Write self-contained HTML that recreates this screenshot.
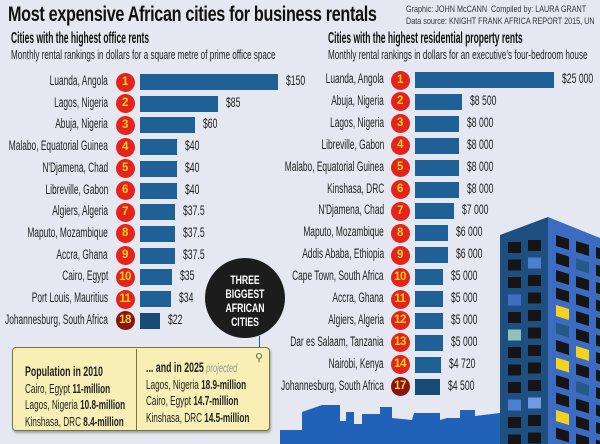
<!DOCTYPE html>
<html><head><meta charset="utf-8">
<style>
html,body{margin:0;overflow:hidden;width:600px;height:444px;}
#root{position:relative;width:600px;height:444px;background:#e5e8f1;overflow:hidden;font-family:"Liberation Sans",sans-serif;color:#222;}
.t{position:absolute;white-space:nowrap;}
.cl{transform-origin:left center;}
.cr{transform-origin:right center;}
</style></head><body>
<div id="root">
<div class="t cl" style="left:8px;top:3px;font-weight:bold;font-size:21px;letter-spacing:-0.4px;color:#111;transform:scaleX(0.77);">Most expensive African cities for business rentals</div>
<div class="t cl" style="left:406px;top:4px;font-size:9.5px;line-height:12px;color:#333;transform:scaleX(0.76);">Graphic: JOHN McCANN &nbsp;Compiled by: LAURA GRANT<br>Data source: KNIGHT FRANK AFRICA REPORT 2015, UN</div>
<div class="t cl" style="left:11px;top:30px;font-size:16px;font-weight:bold;color:#111;transform:scaleX(0.53);">Cities with the highest office rents</div>
<div class="t cl" style="left:11px;top:48px;font-size:12.5px;color:#222;transform:scaleX(0.65);">Monthly rental rankings in dollars for a square metre of prime office space</div>
<div class="t cl" style="left:328px;top:30px;font-size:16px;font-weight:bold;color:#111;transform:scaleX(0.53);">Cities with the highest residential property rents</div>
<div class="t cl" style="left:328px;top:48px;font-size:12.5px;color:#222;transform:scaleX(0.65);">Monthly rental rankings in dollars for an executive’s four-bedroom house</div>

<svg id="deco" width="600" height="444" style="position:absolute;left:0;top:0">
  <polygon fill="#1f62b8" points="280,444 280,430 302,430 302,412 322,405 340,405 340,421 346,421 346,412 354,412 354,424 362,424 362,414 380,414 380,407 392,407 392,418 412,420 414,413 440,413 440,420 447,418 460,418 460,410 475,410 475,416 500,413 500,444"/>
  <polygon fill="#1d4f80" points="500,235 548,217 548,444 500,444"/>
  <polygon fill="#3b6cc2" points="548,217 600,238 600,444 548,444"/>
  <g id="windows"></g>
</svg>

<div id="charts"></div>

<div style="position:absolute;left:205px;top:258px;width:80px;height:80px;border-radius:50%;background:#1c1c1c;"></div>
<div class="t" style="left:205px;top:273px;width:80px;text-align:center;color:#fff;font-weight:bold;font-size:12px;line-height:14px;transform:scaleX(0.72);">THREE<br>BIGGEST<br>AFRICAN<br>CITIES</div>
<div style="position:absolute;left:259px;top:336px;width:1px;height:12px;background:#2a5b8a;"></div>

<div style="position:absolute;left:12px;top:347px;width:256px;height:82px;background:#f8efb6;border:1.5px solid #7a7340;border-radius:4px;box-shadow:1px 2px 2px rgba(0,0,0,0.3);"></div>
<div style="position:absolute;left:136px;top:349px;width:1px;height:82px;background:#7a7340;"></div>
<div class="t cl" style="left:25px;top:363px;font-size:13px;line-height:16.5px;color:#222;transform:scaleX(0.63);"><b style="font-size:14px">Population in 2010</b><br>Cairo, Egypt <b>11-million</b><br>Lagos, Nigeria <b>10.8-million</b><br>Kinshasa, DRC <b>8.4-million</b></div>
<div class="t cl" style="left:146px;top:359px;font-size:13px;line-height:16.5px;color:#222;transform:scaleX(0.63);"><b style="font-size:14px">... and in 2025</b> <i style="color:#999;font-size:12px">projected</i><br>Lagos, Nigeria <b>18.9-million</b><br>Cairo, Egypt <b>14.7-million</b><br>Kinshasa, DRC <b>14.5-million</b></div>
<div class="t" style="left:255px;top:351px;font-size:11px;color:#5a6a40;">⚲</div>
</div>

<script>
const officeCities=["Luanda, Angola","Lagos, Nigeria","Abuja, Nigeria","Malabo, Equatorial Guinea","N'Djamena, Chad","Libreville, Gabon","Algiers, Algeria","Maputo, Mozambique","Accra, Ghana","Cairo, Egypt","Port Louis, Mauritius","Johannesburg, South Africa"];
const officeRanks=[1,2,3,4,5,6,7,8,9,10,11,18];
const officeValues=[150,85,60,40,40,40,37.5,37.5,37.5,35,34,22];
const officeLabels=["$150","$85","$60","$40","$40","$40","$37.5","$37.5","$37.5","$35","$34","$22"];
const resCities=["Luanda, Angola","Abuja, Nigeria","Lagos, Nigeria","Libreville, Gabon","Malabo, Equatorial Guinea","Kinshasa, DRC","N'Djamena, Chad","Maputo, Mozambique","Addis Ababa, Ethiopia","Cape Town, South Africa","Accra, Ghana","Algiers, Algeria","Dar es Salaam, Tanzania","Nairobi, Kenya","Johannesburg, South Africa"];
const resRanks=[1,2,3,4,5,6,7,8,9,10,11,12,13,14,17];
const resValues=[25000,8500,8000,8000,8000,8000,7000,6000,6000,5000,5000,5000,5000,4720,4500];
const resLabels=["$25 000","$8 500","$8 000","$8 000","$8 000","$8 000","$7 000","$6 000","$6 000","$5 000","$5 000","$5 000","$5 000","$4 720","$4 500"];

const root=document.getElementById('charts');
function drawChart(cities,ranks,values,labels,cfg){
  const maxV=Math.max(...values);
  const xScale=v=>v/maxV*cfg.w;
  const yScale=i=>cfg.y0+i*cfg.step;
  cities.forEach((c,i)=>{
    const y=yScale(i);
    const last=ranks[i]>15;
    const lab=document.createElement('div');
    lab.className='t cr';
    
    
    lab.style.cssText=`right:${600-cfg.labelRight}px;top:${y-9}px;font-size:13.5px;color:#222;transform:scaleX(0.62);`;
    lab.textContent=c;root.appendChild(lab);
    const b=document.createElement('div');
    
    
    b.style.cssText=`position:absolute;left:${cfg.badge-9.5}px;top:${y-9.5}px;width:19px;height:19px;border-radius:50%;background:${last?'#8a1414':'#e4231c'};color:#ffd21f;font-weight:bold;font-size:11.5px;line-height:19px;text-align:center;letter-spacing:-0.5px;`;
    b.textContent=ranks[i];root.appendChild(b);
    const bar=document.createElement('div');
    
    
    const w=xScale(values[i]);
    bar.style.cssText=`position:absolute;left:${cfg.x0}px;top:${y-8}px;width:${w}px;height:16px;background:${last?'#174d75':'#1f6197'};`;
    root.appendChild(bar);
    const v=document.createElement('div');
    v.className='t cl';
    
    
    v.style.cssText=`left:${cfg.x0+w+8}px;top:${y-9}px;font-size:13.5px;color:#222;transform:scaleX(0.64);`;
    v.textContent=labels[i];root.appendChild(v);
  });
}
drawChart(officeCities,officeRanks,officeValues,officeLabels,{x0:140,w:138,y0:82,step:21.7,badge:125,labelRight:108});
drawChart(resCities,resRanks,resValues,resLabels,{x0:415,w:139,y0:80,step:21.9,badge:400,labelRight:384});

const g=document.getElementById('windows');
const ns='http://www.w3.org/2000/svg';
const special={'0,3':'#3f6fc5','1,1':'#4d7fd0','0,5':'#8fc3b8','0,9':'#4d7fd0','1,9':'#6f9be0','0,12':'#8fc3b8'};
for(let r=0;r<12;r++){for(let c=0;c<2;c++){
  const x=508+c*20,y=242+r*17.5-c*2;
  const el=document.createElementNS(ns,'rect');
  
  
  el.setAttribute('x',x);el.setAttribute('y',y);el.setAttribute('width',13);el.setAttribute('height',11);
  el.setAttribute('fill',special[c+','+r]||'#161414');g.appendChild(el);
}}
const yel={'0,4':1,'1,6':1,'0,7':1,'0,10':1};
const blu={'1,1':1,'0,5':1,'1,8':1};
for(let r=0;r<12;r++){for(let c=0;c<3;c++){
  const x=556+c*20,y=235+r*17.5+c*6;
  const el=document.createElementNS(ns,'polygon');
  
  
  el.setAttribute('points',`${x},${y} ${x+13},${y+4} ${x+13},${y+15} ${x},${y+11}`);
  el.setAttribute('fill',yel[c+','+r]?'#f5d31c':blu[c+','+r]?'#245a85':'#161414');g.appendChild(el);
}}
</script>
</body></html>
